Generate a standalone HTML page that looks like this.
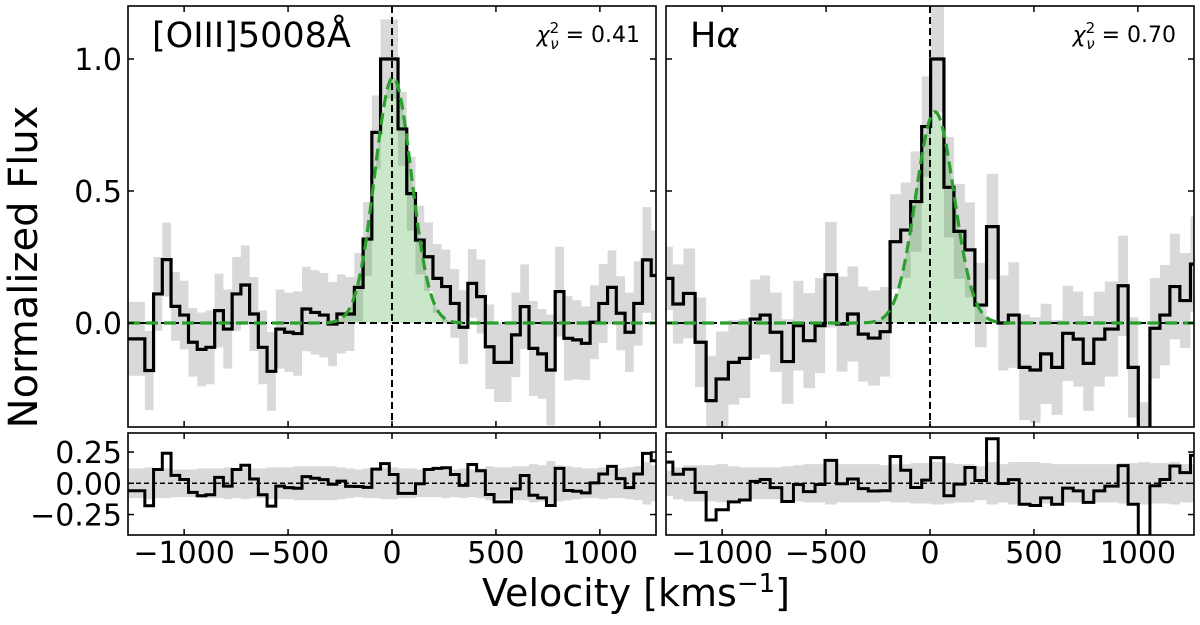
<!DOCTYPE html>
<html><head><meta charset="utf-8">
<style>
html,body{margin:0;padding:0;background:#fff;}
svg{display:block;font-family:"DejaVu Sans","Liberation Sans",sans-serif;}
</style></head>
<body>
<svg id="fig" width="1200" height="625" viewBox="0 0 1200 625" xmlns="http://www.w3.org/2000/svg">
<defs>
<clipPath id="cL"><rect x="128" y="6" width="528" height="421"/></clipPath>
<clipPath id="cR"><rect x="666" y="6" width="528" height="421"/></clipPath>
<clipPath id="cLb"><rect x="128" y="433" width="528" height="102"/></clipPath>
<clipPath id="cRb"><rect x="666" y="433" width="528" height="102"/></clipPath>
</defs>
<g id="layer"></g>
<text x="24" y="267" font-size="40" text-anchor="middle" transform="rotate(-90 24 267)" dominant-baseline="central">Normalized Flux</text>
<text x="636" y="606" font-size="38" text-anchor="middle">Velocity [kms<tspan dy="-14" font-size="26">−1</tspan><tspan dy="14">]</tspan></text>
<text x="152" y="47" font-size="35">[OIII]5008Å</text>
<text x="690" y="47" font-size="35">H<tspan font-style="italic">α</tspan></text>
<text x="640" y="42" font-size="22" text-anchor="end"><tspan font-style="italic">χ</tspan><tspan dy="-9" font-size="15">2</tspan><tspan dx="-9" dy="16" font-size="15" font-style="italic">ν</tspan><tspan dy="-7"> = 0.41</tspan></text>
<text x="1176" y="42" font-size="22" text-anchor="end"><tspan font-style="italic">χ</tspan><tspan dy="-9" font-size="15">2</tspan><tspan dx="-9" dy="16" font-size="15" font-style="italic">ν</tspan><tspan dy="-7"> = 0.70</tspan></text>
</svg>
<script>
// ---- data ----
const leftEdges = [-1273,-1231,-1189,-1147,-1105,-1063,-1021,-979,-937,-895,-853,-811,-769,-727,-685,-643,-601,-559,-517,-475,-433,-391,-349,-307,-265,-223,-181,-139,-97,-55,-13,29,71,113,155,197,239,281,323,365,407,449,491,533,575,617,659,701,743,785,827,869,911,953,995,1037,1079,1121,1163,1205,1247,1289];
const leftFlux = [-0.06,-0.06,-0.18,0.11,0.24,0.063,0.03,-0.073,-0.10,-0.092,0.047,-0.023,0.11,0.144,0.034,-0.092,-0.183,-0.023,-0.035,-0.04,0.053,0.04,0.03,-0.004,0.034,0.034,0.135,0.318,0.722,1.0,1.0,0.735,0.49,0.314,0.251,0.169,0.138,0.074,-0.016,0.15,0.10,-0.09,-0.149,-0.149,-0.045,0.062,-0.096,-0.117,-0.178,0.119,-0.058,-0.064,-0.077,0.003,0.074,0.135,0.037,-0.035,0.074,0.239,0.18];
const leftErr = [0.14,0.14,0.15,0.14,0.14,0.13,0.13,0.13,0.14,0.14,0.14,0.15,0.14,0.15,0.14,0.14,0.15,0.15,0.15,0.16,0.16,0.16,0.16,0.16,0.15,0.14,0.13,0.14,0.14,0.15,0.15,0.14,0.14,0.13,0.13,0.13,0.14,0.13,0.14,0.13,0.14,0.16,0.15,0.15,0.16,0.16,0.18,0.17,0.21,0.17,0.16,0.15,0.14,0.14,0.15,0.14,0.14,0.15,0.16,0.2,0.17];
const leftFit = [0.93, 5, 88]; // amplitude, centre, sigma

const rightEdges = [-1290,-1237,-1186,-1130,-1077,-1029,-970,-917,-865,-817,-769,-713,-657,-609,-553,-505,-449,-397,-345,-297,-240,-192,-141,-93,-40,3,67,115,168,216,272,328,377,429,481,532,585,638,689,737,788,841,905,953,1002,1058,1106,1154,1202,1253,1300];
const rightFlux = [0.169,0.072,0.112,-0.073,-0.294,-0.212,-0.149,-0.134,0.015,0.03,-0.035,-0.146,-0.01,-0.067,-0.01,0.183,-0.004,0.034,-0.042,-0.057,-0.033,0.308,0.352,0.46,0.744,1.0,0.514,0.347,0.277,0.068,0.365,0.0,0.03,-0.168,-0.178,-0.117,-0.168,-0.039,-0.061,-0.153,-0.061,-0.023,0.141,-0.168,-0.5,-0.02,0.03,0.138,0.085,0.223];
const rightErr = [0.12,0.15,0.17,0.17,0.17,0.18,0.16,0.15,0.15,0.15,0.15,0.16,0.17,0.18,0.18,0.2,0.18,0.18,0.18,0.18,0.17,0.18,0.18,0.19,0.19,0.2,0.19,0.18,0.18,0.16,0.2,0.18,0.2,0.2,0.2,0.19,0.18,0.18,0.18,0.18,0.18,0.18,0.19,0.19,0.2,0.19,0.19,0.2,0.18,0.18];
const rightFit = [0.80, 24, 92];

const xTicks = [-1000,-500,0,500,1000];
const xTickLabels = ["−1000","−500","0","500","1000"];
const yTicksTop = [0,0.5,1.0];
const yTickLabelsTop = ["0.0","0.5","1.0"];
const yTicksRes = [-0.25,0,0.25];
const yTickLabelsRes = ["−0.25","0.00","0.25"];

// ---- axes ----
const NS = "http://www.w3.org/2000/svg";
const layer = document.getElementById('layer');
const VMIN = -1270, VMAX = 1270;
function xs(x0){ return v => x0 + (v - VMIN) * 528 / (VMAX - VMIN); }
const yTop = f => 323 - 264 * f;
const yRes = f => 483.3 - 125 * f;
function mk(tag, attrs, parent){
  const e = document.createElementNS(NS, tag);
  for (const k in attrs) e.setAttribute(k, attrs[k]);
  (parent || layer).appendChild(e);
  return e;
}
function gauss(p, v){ return p[0] * Math.exp(-0.5 * Math.pow((v - p[1]) / p[2], 2)); }
function stepPath(edges, vals, X, Y){
  let d = '';
  for (let i = 0; i < vals.length; i++){
    const y = Y(vals[i]);
    d += (i === 0 ? 'M' : 'L') + X(edges[i]).toFixed(2) + ',' + y.toFixed(2) + 'L' + X(edges[i+1]).toFixed(2) + ',' + y.toFixed(2);
  }
  return d;
}
function bandPath(edges, lo, hi, X, Y){
  let top = '', bot = [];
  for (let i = 0; i < lo.length; i++){
    top += (i === 0 ? 'M' : 'L') + X(edges[i]).toFixed(2) + ',' + Y(hi[i]).toFixed(2) + 'L' + X(edges[i+1]).toFixed(2) + ',' + Y(hi[i]).toFixed(2);
    bot.unshift('L' + X(edges[i+1]).toFixed(2) + ',' + Y(lo[i]).toFixed(2) + 'L' + X(edges[i]).toFixed(2) + ',' + Y(lo[i]).toFixed(2));
  }
  return top + bot.join('') + 'Z';
}

function panel(x0, edges, flux, err, fit, clipTop, clipRes, key){
  const X = xs(x0);
  const gt = mk('g', {'clip-path': 'url(#' + clipTop + ')'});
  
  
  const lo = flux.map((f, i) => f - err[i]);
  const hi = flux.map((f, i) => f + err[i]);
  const band = mk('path', {d: bandPath(edges, lo, hi, X, yTop), fill: '#d9d9d9'}, gt);
  
  
  let dm = '', df = 'M' + X(VMIN) + ',' + yTop(0);
  for (let v = VMIN; v <= VMAX; v += 5){
    const p = X(v).toFixed(2) + ',' + yTop(gauss(fit, v)).toFixed(2);
    dm += (v === VMIN ? 'M' : 'L') + p;
    df += 'L' + p;
  }
  df += 'L' + X(VMAX) + ',' + yTop(0) + 'Z';
  const fill = mk('path', {d: df, fill: 'rgba(44,160,44,0.25)'}, gt);
  
  
  mk('line', {x1: X(VMIN), x2: X(VMAX), y1: yTop(0), y2: yTop(0), stroke: '#000', 'stroke-width': 2, 'stroke-dasharray': '7 4'}, gt);
  mk('line', {x1: X(0), x2: X(0), y1: 6, y2: 427, stroke: '#000', 'stroke-width': 2, 'stroke-dasharray': '7 4'}, gt);
  const st = mk('path', {d: stepPath(edges, flux, X, yTop), fill: 'none', stroke: '#000', 'stroke-width': 3.2, 'stroke-linejoin': 'miter'}, gt);
  
  
  const ml = mk('path', {d: dm, fill: 'none', stroke: '#2ca02c', 'stroke-width': 3.2, 'stroke-dasharray': '12 6'}, gt);
  
  

  const gr = mk('g', {'clip-path': 'url(#' + clipRes + ')'});
  
  
  const res = flux.map((f, i) => f - gauss(fit, (edges[i] + edges[i+1]) / 2));
  const rlo = err.map(e => -e * 0.85), rhi = err.map(e => e * 0.85);
  const rb = mk('path', {d: bandPath(edges, rlo, rhi, X, yRes), fill: '#d9d9d9'}, gr);
  
  
  mk('line', {x1: X(VMIN), x2: X(VMAX), y1: yRes(0), y2: yRes(0), stroke: '#000', 'stroke-width': 1.5, 'stroke-dasharray': '5 3'}, gr);
  const rs = mk('path', {d: stepPath(edges, res, X, yRes), fill: 'none', stroke: '#000', 'stroke-width': 3}, gr);
  
  

  const fr1 = mk('rect', {x: x0, y: 6, width: 528, height: 421, fill: 'none', stroke: '#000', 'stroke-width': 1.6});
  
  
  const fr2 = mk('rect', {x: x0, y: 433, width: 528, height: 102, fill: 'none', stroke: '#000', 'stroke-width': 1.6});
  
  
  xTicks.forEach((t, i) => {
    const x = X(t);
    [[6, 12], [427, 421], [433, 439], [535, 529]].forEach(p => mk('line', {x1: x, x2: x, y1: p[0], y2: p[1], stroke: '#000', 'stroke-width': 1.5}));
    const lb = mk('text', {x: x, y: 563, 'font-size': 30, 'text-anchor': 'middle'});
    lb.textContent = xTickLabels[i];
    
    
  });
  yTicksTop.forEach((t, i) => {
    const y = yTop(t);
    mk('line', {x1: x0, x2: x0 + 6, y1: y, y2: y, stroke: '#000', 'stroke-width': 1.5});
    mk('line', {x1: x0 + 528, x2: x0 + 522, y1: y, y2: y, stroke: '#000', 'stroke-width': 1.5});
    if (key === 'oiii'){
      const lb = mk('text', {x: 122, y: y + 11, 'font-size': 30, 'text-anchor': 'end'});
      lb.textContent = yTickLabelsTop[i];
      
      
    }
  });
  yTicksRes.forEach((t, i) => {
    const y = yRes(t);
    mk('line', {x1: x0, x2: x0 + 6, y1: y, y2: y, stroke: '#000', 'stroke-width': 1.5});
    mk('line', {x1: x0 + 528, x2: x0 + 522, y1: y, y2: y, stroke: '#000', 'stroke-width': 1.5});
    if (key === 'oiii'){
      const lb = mk('text', {x: 122, y: y + 11, 'font-size': 30, 'text-anchor': 'end'});
      lb.textContent = yTickLabelsRes[i];
      
      
    }
  });
}
panel(128, leftEdges, leftFlux, leftErr, leftFit, 'cL', 'cLb', 'oiii');
panel(666, rightEdges, rightFlux, rightErr, rightFit, 'cR', 'cRb', 'halpha');
</script>
</body></html>
